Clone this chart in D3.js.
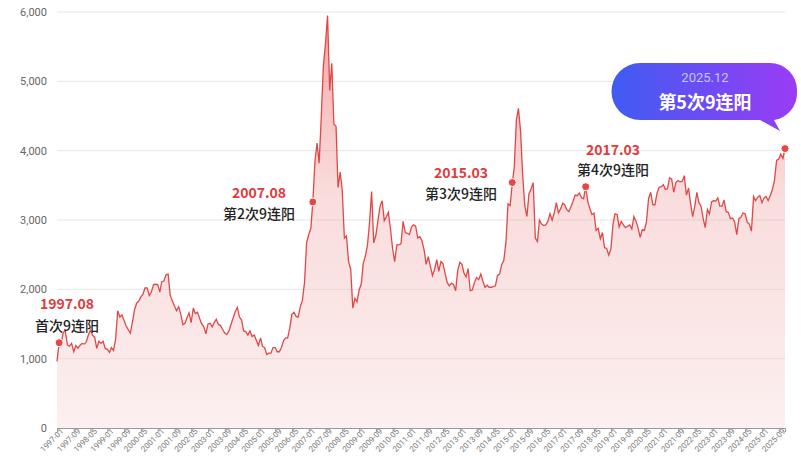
<!DOCTYPE html>
<html><head><meta charset="utf-8">
<script src="https://cdn.jsdelivr.net/npm/d3@7"></script>
<style>body{margin:0;background:#fff;font-family:"Noto Sans CJK SC","Noto Sans",sans-serif}</style>
</head><body>
<script>
// monthly closes, 1997-01 .. 2025-12
const v1997 = [960,1230,1200,1380,1400,1200,1180,1220,1100,1190,1150,1194];
const v1998 = [1220,1210,1240,1340,1410,1340,1310,1150,1250,1220,1250,1147];
const v1999 = [1135,1090,1160,1120,1280,1690,1600,1630,1550,1470,1420,1367];
const v2000 = [1530,1710,1800,1830,1890,1930,2020,2020,1910,1960,2070,2073];
const v2001 = [2070,1960,2110,2120,2210,2220,1920,1830,1760,1690,1750,1646];
const v2002 = [1490,1510,1590,1660,1520,1730,1650,1670,1580,1500,1460,1357];
const v2003 = [1500,1510,1460,1520,1570,1490,1480,1420,1370,1350,1400,1497];
const v2004 = [1590,1680,1740,1600,1560,1400,1390,1340,1400,1320,1340,1266];
const v2005 = [1190,1300,1180,1160,1060,1080,1080,1160,1160,1100,1100,1161];
const v2006 = [1260,1300,1300,1440,1640,1670,1610,1600,1750,1840,2100,2675];
const v2007 = [2790,2880,3260,3840,4110,3820,4470,5220,5550,5950,4870,5260];
const v2008 = [4380,4350,3470,3690,3430,2740,2770,2400,2290,1730,1870,1820];
const v2009 = [1990,2080,2370,2480,2630,2960,3410,2670,2780,2990,3200,3277];
const v2010 = [2990,3050,3110,2870,2590,2400,2640,2640,2660,2980,2820,2808];
const v2011 = [2790,2900,2930,2910,2740,2760,2700,2570,2360,2470,2330,2199];
const v2012 = [2290,2430,2260,2400,2370,2230,2100,2050,2090,2070,1980,2269];
const v2013 = [2390,2360,2240,2180,2300,1980,1990,2100,2170,2140,2220,2116];
const v2014 = [2030,2060,2030,2030,2040,2050,2200,2220,2360,2420,2680,3235];
const v2015 = [3210,3540,3750,4440,4610,4280,3660,3210,3050,3380,3450,3539];
const v2016 = [2740,2690,3000,2940,2920,2930,2980,3090,3000,3100,3250,3104];
const v2017 = [3160,3240,3220,3150,3120,3190,3270,3360,3350,3390,3320,3307];
const v2018 = [3480,3260,3170,3080,3100,2850,2880,2730,2820,2600,2590,2494];
const v2019 = [2580,2940,3090,3080,2900,2980,2930,2890,2910,2930,2870,3050];
const v2020 = [2980,2880,2750,2860,2850,2980,3310,3400,3220,3220,3390,3473];
const v2021 = [3480,3510,3440,3450,3610,3590,3400,3540,3570,3550,3560,3640];
const v2022 = [3360,3460,3250,3050,3190,3400,3250,3200,3020,2890,3150,3089];
const v2023 = [3260,3280,3270,3320,3200,3200,3290,3120,3110,3020,3030,2975];
const v2024 = [2790,3020,3040,3100,3090,2970,2940,2840,3340,3280,3330,3352];
const v2025 = [3250,3320,3340,3280,3350,3440,3570,3860,3880,3950,3890,4030];
const yearValues = [v1997,v1998,v1999,v2000,v2001,v2002,v2003,v2004,v2005,v2006,v2007,v2008,v2009,v2010,v2011,v2012,v2013,v2014,v2015,v2016,v2017,v2018,v2019,v2020,v2021,v2022,v2023,v2024,v2025];
const yTicks = [0,1000,2000,3000,4000,5000,6000];
// marker dates (index into series) and labels
const markerDates = ["1997-02","2007-03","2015-02","2018-01","2025-12"];
const markerTitles = ["1997.08","2007.08","2015.03","2017.03","2025.12"];
const markerTexts = ["首次9连阳","第2次9连阳","第3次9连阳","第4次9连阳","第5次9连阳"];

const parse = d3.timeParse("%Y-%m");
const data = [];
yearValues.forEach((arr, i) => arr.forEach((v, m) => data.push({date: new Date(1997 + i, m, 1), value: v})));

const width = 801, height = 468;
const svg = d3.select("body").append("svg").attr("width", width).attr("height", height);

const x = d3.scaleTime().domain([new Date(1997, 0, 1), new Date(2025, 11, 1)]).range([57, 785]);
const y = d3.scaleLinear().domain([0, 6000]).range([428, 12]);

const defs = svg.append("defs");
const ag = defs.append("linearGradient").attr("id", "area").attr("x1", 0).attr("y1", 0).attr("x2", 0).attr("y2", 1);
ag.append("stop").attr("offset", "0%").attr("stop-color", "#e84545").attr("stop-opacity", 0.5);
ag.append("stop").attr("offset", "45%").attr("stop-color", "#f0a0a0").attr("stop-opacity", 0.35);
ag.append("stop").attr("offset", "100%").attr("stop-color", "#f8dede").attr("stop-opacity", 0.45);
const bg = defs.append("linearGradient").attr("id", "bubble").attr("x1", 0).attr("y1", 0).attr("x2", 1).attr("y2", 0);
bg.append("stop").attr("offset", "0%").attr("stop-color", "#3f5cf2");
bg.append("stop").attr("offset", "100%").attr("stop-color", "#9a3cf4");

// grid
svg.append("g").selectAll("line").data(yTicks.slice(1)).join("line")
  .attr("x1", 57).attr("x2", 785).attr("y1", d => y(d)).attr("y2", d => y(d))
  .attr("stroke", "#e6e6e6");
svg.append("g").selectAll("text").data(yTicks).join("text")
  .attr("x", 47).attr("y", d => y(d) + 4).attr("text-anchor", "end")
  .attr("fill", "#666").attr("font-size", 11).attr("font-family", "Roboto, sans-serif")
  .text(d => d3.format(",")(d));

// area + line
svg.append("path").datum(data).attr("fill", "url(#area)")
  .attr("d", d3.area().x(d => x(d.date)).y0(y(0)).y1(d => y(d.value)));
svg.append("path").datum(data).attr("fill", "none").attr("stroke", "#e04848").attr("stroke-width", 1.3)
  .attr("d", d3.line().x(d => x(d.date)).y(d => y(d.value)));

// x axis
const xTicks = d3.range(0, 352, 8).map(i => new Date(1997, i, 1));
const xAxis = svg.append("g").attr("transform", `translate(0,${y(0)})`)
  .call(d3.axisBottom(x).tickValues(xTicks).tickFormat(d3.timeFormat("%Y-%m")).tickSize(4));
xAxis.select(".domain").attr("stroke", "#999");
xAxis.selectAll("line").attr("stroke", "#999");
xAxis.selectAll("text").attr("fill", "#777").attr("font-size", 8).attr("font-family", "Roboto, sans-serif")
  .attr("text-anchor", "end").attr("y", 5).attr("x", 2).attr("dy", "0.3em").attr("transform", "rotate(-45)");

// markers
const markers = markerDates.map((d, i) => {
  const dt = parse(d);
  const pt = data.find(p => +p.date === +dt);
  return {date: dt, value: pt.value, title: markerTitles[i], text: markerTexts[i]};
});
svg.append("g").selectAll("circle").data(markers).join("circle")
  .attr("cx", d => x(d.date)).attr("cy", d => y(d.value)).attr("r", 4)
  .attr("fill", "#e84545").attr("stroke", "#fff").attr("stroke-width", 1);

const labelPos = [[67, 309, 331], [259, 198, 219], [461, 178, 199], [613, 155, 175]];
markers.slice(0, 4).forEach((m, i) => {
  const [cx, ty, ly] = labelPos[i];
  svg.append("text").attr("x", cx).attr("y", ty).attr("text-anchor", "middle")
    .attr("fill", "#e03c3c").attr("font-weight", "bold").attr("font-size", 14).text(m.title);
  svg.append("text").attr("x", cx).attr("y", ly).attr("text-anchor", "middle")
    .attr("fill", "#222").attr("font-weight", 500).attr("font-size", 14).text(m.text);
});

// bubble for last marker
const last = markers[4];
svg.append("path").attr("fill", "url(#bubble)")
  .attr("d", "M640,63 H770 A27,27 0 0 1 797,90 V93 A27,27 0 0 1 774,120 L780,131 L760,120 H640 A28.5,28.5 0 0 1 640,63 Z");
svg.append("text").attr("x", 705).attr("y", 82).attr("text-anchor", "middle")
  .attr("fill", "#c9c4f5").attr("font-size", 13).attr("font-family", "Roboto, sans-serif").text(last.title);
svg.append("text").attr("x", 705).attr("y", 109).attr("text-anchor", "middle")
  .attr("fill", "#fff").attr("font-weight", "bold").attr("font-size", 18).text(last.text);
</script>
</body></html>
